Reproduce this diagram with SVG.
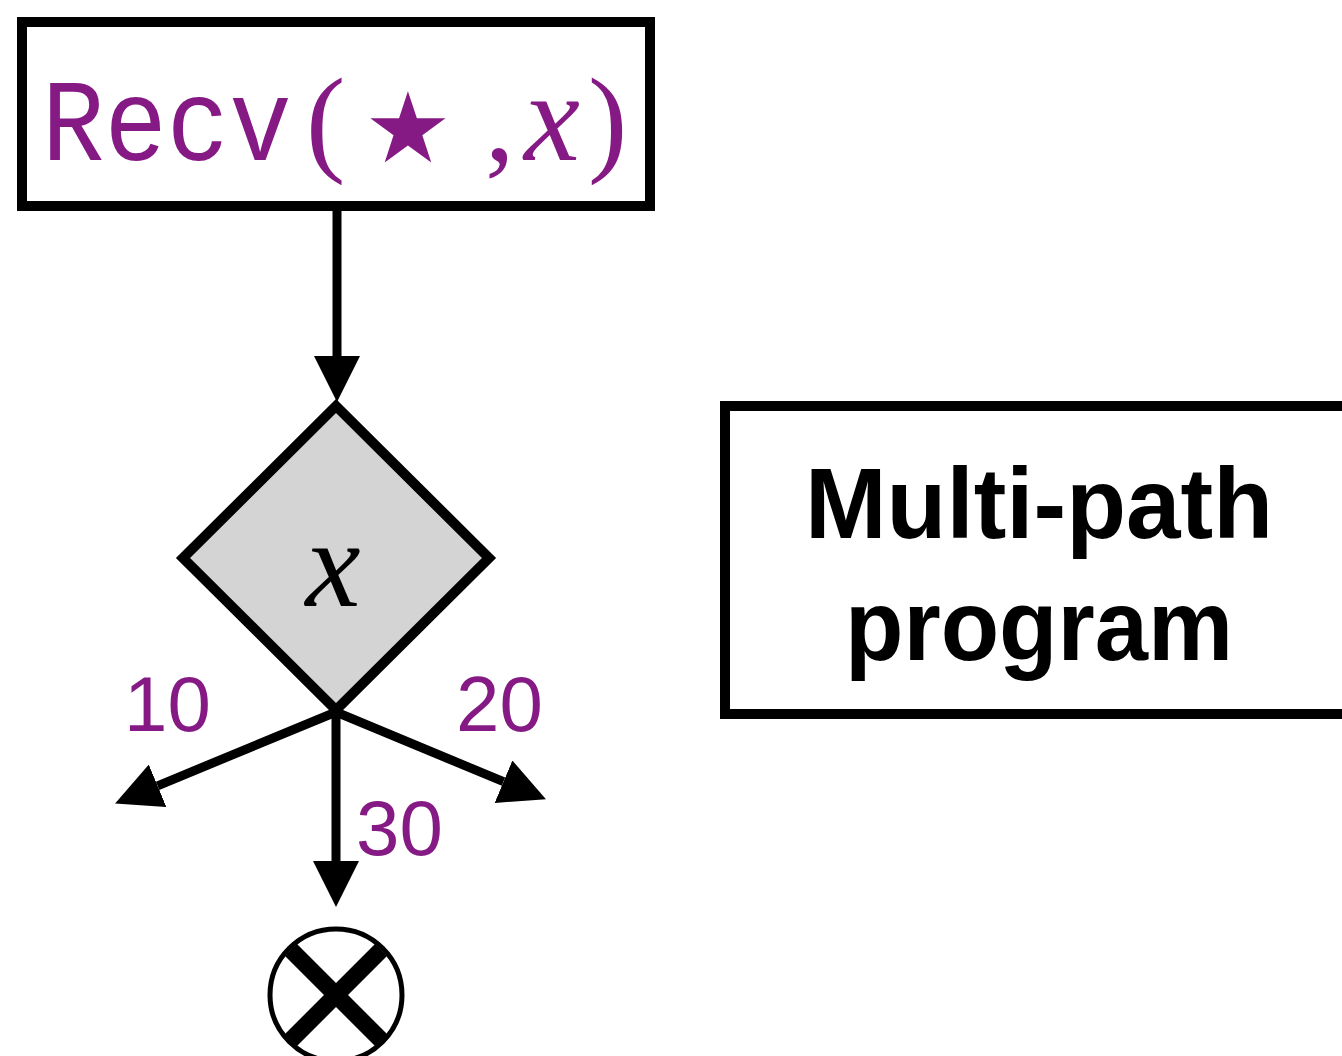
<svg xmlns="http://www.w3.org/2000/svg" width="1342" height="1056" viewBox="0 0 1342 1056">
<style>
.box{fill:#fff;stroke:#000;stroke-width:10}
.conn{stroke:#000;stroke-width:9;fill:none}
.lbl{font-family:"Liberation Sans",Arial,sans-serif;font-size:78px;fill:#861a84}
.pur{fill:#861a84}
</style>
<defs>
<marker id="ah" markerUnits="userSpaceOnUse" markerWidth="46" markerHeight="46" refX="0" refY="23" orient="auto" viewBox="0 0 46 46">
<path d="M0,0 L46,23 L0,46 z" fill="#000"/>
</marker>
<clipPath id="cc"><circle cx="336" cy="995" r="64"/></clipPath>
</defs>
<g id="recv">
<rect class="box" x="22" y="22" width="628" height="184"/>
<text class="pur" font-size="104" font-family="'Liberation Mono','Courier New',monospace" transform="translate(42,160) scale(1,1.12)" x="0" y="0">Recv</text>
<text y="160" class="pur" font-size="118" font-family="'Liberation Serif','Times New Roman',serif" x="306">(</text>
<text y="162" class="pur" font-size="98" font-family="'DejaVu Sans',sans-serif" x="364">★</text>
<text y="160" class="pur" font-size="118" font-family="'Liberation Serif','Times New Roman',serif" x="485">,</text>
<text y="160" class="pur" font-size="126" font-style="italic" font-family="'Liberation Serif','Times New Roman',serif" x="524">x</text>
<text y="160" class="pur" font-size="118" font-family="'Liberation Serif','Times New Roman',serif" x="588">)</text>
</g>
<g id="decision">
<polygon points="336,406 489,558 336,710 183,558" fill="#d4d4d4" stroke="#000" stroke-width="10"/>
<text x="333" y="606" text-anchor="middle" font-size="124" font-style="italic" font-family="'Liberation Serif','Times New Roman',serif" fill="#000">x</text>
</g>
<g id="end">
<circle cx="336" cy="995" r="66" fill="#fff" stroke="#000" stroke-width="5"/>
<g clip-path="url(#cc)" stroke="#000" stroke-width="17">
<line x1="286" y1="945" x2="386" y2="1045"/>
<line x1="386" y1="945" x2="286" y2="1045"/>
</g>
</g>
<g id="multipath">
<rect class="box" x="725" y="406" width="640" height="308"/>
<text x="1039" y="538" text-anchor="middle" font-family="'Liberation Sans',Arial,sans-serif" font-weight="bold" font-size="100" textLength="468" lengthAdjust="spacingAndGlyphs">Multi-path</text>
<text x="1039" y="660" text-anchor="middle" font-family="'Liberation Sans',Arial,sans-serif" font-weight="bold" font-size="100" textLength="388" lengthAdjust="spacingAndGlyphs">program</text>
</g>
<g id="connectors">
<line class="conn" x1="337" y1="206" x2="337" y2="356" marker-end="url(#ah)"/>
<line class="conn" x1="336" y1="712" x2="336" y2="861" marker-end="url(#ah)"/>
<line class="conn" x1="336" y1="712" x2="157.6" y2="785.8" marker-end="url(#ah)"/>
<line class="conn" x1="336" y1="712" x2="503.5" y2="781.7" marker-end="url(#ah)"/>
<text class="lbl" x="124" y="731">10</text>
<text class="lbl" x="456" y="731">20</text>
<text class="lbl" x="356" y="855">30</text>
</g>
</svg>
